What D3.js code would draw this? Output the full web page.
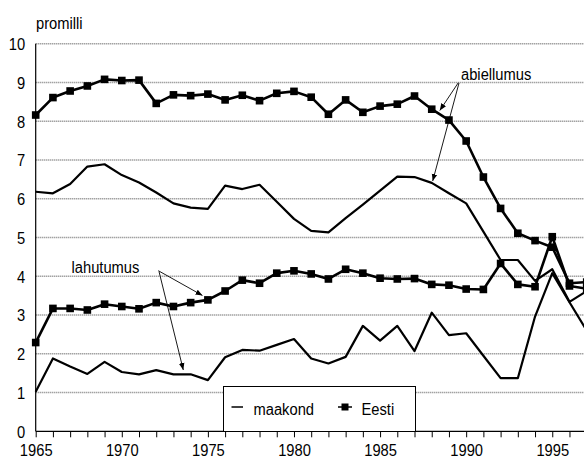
<!DOCTYPE html>
<html><head><meta charset="utf-8">
<script src="https://cdn.jsdelivr.net/npm/d3@7/dist/d3.min.js"></script>
<style>
body{margin:0;background:#fff}
svg{display:block;font-family:Arial,"Liberation Sans",sans-serif}
</style>
</head><body>
<svg id="c" width="584" height="459"></svg>
<script>
const years = [1965,1966,1967,1968,1969,1970,1971,1972,1973,1974,1975,1976,1977,1978,1979,1980,
               1981,1982,1983,1984,1985,1986,1987,1988,1989,1990,1991,1992,1993,1994,1995,1996,1997];
const eestiAbiellumus = [8.16,8.61,8.78,8.91,9.08,9.05,9.06,8.46,8.68,8.66,8.70,8.55,8.67,8.53,8.72,8.77,
                         8.62,8.18,8.55,8.23,8.39,8.44,8.65,8.31,8.03,7.49,6.56,5.75,5.11,4.92,4.75,3.82,3.85];
const eestiLahutumus = [2.29,3.17,3.17,3.13,3.28,3.22,3.16,3.32,3.22,3.32,3.39,3.62,3.90,3.82,4.08,4.14,
                        4.06,3.93,4.18,4.08,3.95,3.93,3.94,3.79,3.77,3.67,3.66,4.33,3.79,3.73,5.02,3.75,3.68];
const maakondAbiellumus = [6.18,6.14,6.38,6.83,6.89,6.61,6.42,6.16,5.88,5.77,5.74,6.34,6.25,6.36,5.92,5.48,
                           5.17,5.13,5.50,5.85,6.21,6.57,6.56,6.41,6.14,5.88,5.15,4.42,4.42,3.88,4.18,3.34,3.62];
const maakondLahutumus = [1.02,1.88,1.67,1.48,1.79,1.53,1.47,1.58,1.47,1.47,1.32,1.91,2.10,2.08,2.23,2.38,
                          1.88,1.75,1.92,2.72,2.34,2.72,2.07,3.06,2.48,2.53,1.95,1.37,1.37,2.96,4.08,3.33,2.60];
const yTicks = [0,1,2,3,4,5,6,7,8,9,10];
const xLabelYears = [1965,1970,1975,1980,1985,1990,1995];
const yTitle = "promilli";
const legendLabels = ["maakond","Eesti"];
const annAbiellumus = "abiellumus";
const annLahutumus = "lahutumus";

const FS = 16, SX = 0.92;
const svg = d3.select("#c");
const x = d3.scaleLinear().domain([1965,1997]).range([35.7, 586.7]);
const y = d3.scaleLinear().domain([0,10]).range([431.3, 43.7]);

function label(g, tx, ty, str, anchor){
  return g.append("text").attr("transform", `translate(${tx},${ty}) scale(${SX},1)`)
    .attr("font-size", FS).attr("text-anchor", anchor || "start").attr("fill","#000").text(str);
}

// gridlines
svg.append("g").selectAll("line").data(yTicks.filter(d=>d>0)).join("line")
  .attr("x1", x(1965)).attr("x2", 584)
  .attr("y1", d=>y(d)).attr("y2", d=>y(d))
  .attr("stroke", "#7a7a7a").attr("stroke-width", 1.6).attr("stroke-dasharray", "1,1");

// axes
const xAxis = d3.axisBottom(x).tickValues(years)
  .tickFormat(d => xLabelYears.includes(d) ? String(d) : "")
  .tickSize(6).tickSizeOuter(0).tickPadding(9);
const gx = svg.append("g").attr("transform", `translate(0,${y(0)})`).call(xAxis);
gx.select(".domain").remove();
gx.selectAll(".tick line").attr("stroke", "#000");
gx.selectAll("text").attr("font-size", FS).attr("fill", "#000")
  .attr("font-family", "Arial, 'Liberation Sans', sans-serif")
  .attr("y", null).attr("dy", null)
  .attr("transform", `translate(0,24.3) scale(${SX},1)`);

const yAxis = d3.axisLeft(y).tickValues(yTicks).tickSize(0).tickPadding(10.5);
const gy = svg.append("g").attr("transform", `translate(${x(1965)},0)`).call(yAxis);
gy.select(".domain").remove();
gy.selectAll("text").attr("font-size", FS).attr("fill", "#000")
  .attr("font-family", "Arial, 'Liberation Sans', sans-serif")
  .attr("x", null).attr("dy", null)
  .attr("transform", `translate(-10.5,5.8) scale(${SX},1)`);

svg.append("line").attr("x1", x(1965)).attr("x2", 584).attr("y1", y(0)).attr("y2", y(0))
  .attr("stroke", "#000").attr("stroke-width", 1.2);
svg.append("line").attr("x1", x(1965)).attr("x2", x(1965)).attr("y1", y(0)).attr("y2", y(10))
  .attr("stroke", "#000").attr("stroke-width", 1.2);

label(svg, 36, 29, yTitle);

// series
const line = d3.line().x((d,i)=>x(years[i])).y(d=>y(d));
[maakondAbiellumus, maakondLahutumus].forEach(s=>{
  svg.append("path").datum(s).attr("d", line).attr("fill","none")
    .attr("stroke","#000").attr("stroke-width",2.2).attr("stroke-linejoin","round");
});
[eestiAbiellumus, eestiLahutumus].forEach(s=>{
  svg.append("path").datum(s).attr("d", line).attr("fill","none")
    .attr("stroke","#000").attr("stroke-width",2.6).attr("stroke-linejoin","round");
  svg.append("g").selectAll("rect").data(s).join("rect")
    .attr("x",(d,i)=>x(years[i])-3.8).attr("y",d=>y(d)-3.8)
    .attr("width",7.6).attr("height",7.6).attr("fill","#000");
});

// arrows
const defs = svg.append("defs");
defs.append("marker").attr("id","ah").attr("viewBox","0 0 10 10").attr("refX",10).attr("refY",5)
  .attr("markerWidth",7).attr("markerHeight",7).attr("orient","auto-start-reverse")
  .attr("markerUnits","userSpaceOnUse")
  .append("path").attr("d","M0,1 L10,5 L0,9 z").attr("fill","#000");
const arrows = [
  [458.3,82.7,439.8,110.5],
  [459.0,83.0,432.7,181.0],
  [158.3,270.7,202.5,295.5],
  [159.0,271.5,183.3,370.0]
];
svg.append("g").selectAll("line").data(arrows).join("line")
  .attr("x1",d=>d[0]).attr("y1",d=>d[1]).attr("x2",d=>d[2]).attr("y2",d=>d[3])
  .attr("stroke","#000").attr("stroke-width",0.9).attr("marker-end","url(#ah)");

label(svg, 461, 79.5, annAbiellumus);
label(svg, 71.5, 272.5, annLahutumus);

// legend
const lg = svg.append("g");
lg.append("rect").attr("x",223.5).attr("y",386.5).attr("width",192).attr("height",45)
  .attr("fill","#fff").attr("stroke","#000").attr("stroke-width",1);
lg.append("line").attr("x1",231.5).attr("x2",243).attr("y1",407).attr("y2",407)
  .attr("stroke","#000").attr("stroke-width",1.5);
label(lg, 253.5, 415, legendLabels[0]);
lg.append("line").attr("x1",338).attr("x2",352).attr("y1",407).attr("y2",407)
  .attr("stroke","#000").attr("stroke-width",1.5);
lg.append("rect").attr("x",341.5).attr("y",403.5).attr("width",7).attr("height",7).attr("fill","#000");
label(lg, 361.5, 415, legendLabels[1]);
</script>
</body></html>
